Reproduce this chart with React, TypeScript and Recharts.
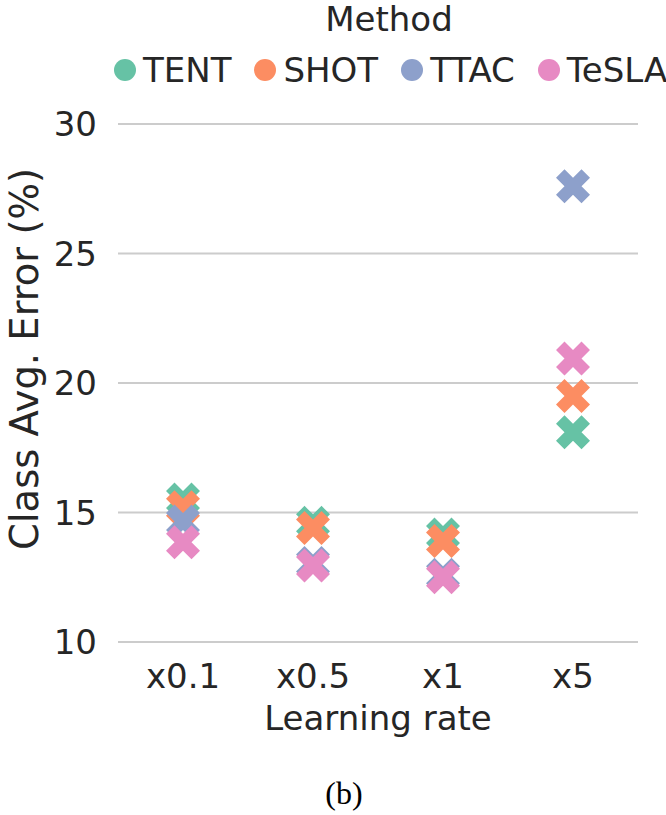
import { ScatterChart, Scatter, XAxis, YAxis, CartesianGrid, Legend } from 'recharts';

const categories = ['x0.1', 'x0.5', 'x1', 'x5'];
const yTicks = [10, 15, 20, 25, 30];

const tentValues = [15.5, 14.6, 14.15, 18.1];
const shotValues = [15.2, 14.4, 13.9, 19.5];
const ttacValues = [14.65, 13.05, 12.6, 27.6];
const teslaValues = [13.85, 12.95, 12.5, 20.95];

const methods = [
  { name: 'TENT', color: '#66c2a5', values: tentValues },
  { name: 'SHOT', color: '#fc8d62', values: shotValues },
  { name: 'TTAC', color: '#8da0cb', values: ttacValues },
  { name: 'TeSLA', color: '#e78ac3', values: teslaValues },
];

const font = '"DejaVu Sans", sans-serif';
const textColor = '#262626';

// filled "X" marker like matplotlib's 'X', 34px across
const XMarker = (props: any) => {
  const { cx, cy, fill } = props;
  const u = 8.5;
  const pts = [
    [-1, -2], [0, -1], [1, -2], [2, -1], [1, 0], [2, 1],
    [1, 2], [0, 1], [-1, 2], [-2, 1], [-1, 0], [-2, -1],
  ];
  const d = pts.map((p, i) => `${i === 0 ? 'M' : 'L'}${cx + p[0] * u},${cy + p[1] * u}`).join(' ') + ' Z';
  return <path d={d} fill={fill} />;
};

const MethodLegend = () => (
  <div style={{ position: 'relative', width: 666, height: 100, fontFamily: font, color: textColor }}>
    <div
      style={{
        position: 'absolute',
        left: 389,
        top: 2,
        transform: 'translateX(-50%)',
        fontSize: 34,
        lineHeight: '34px',
        whiteSpace: 'nowrap',
      }}
    >
      Method
    </div>
    <div
      style={{
        position: 'absolute',
        left: 114,
        top: 53,
        display: 'flex',
        alignItems: 'center',
        fontSize: 34,
        lineHeight: '34px',
        whiteSpace: 'nowrap',
      }}
    >
      {methods.map((m) => (
        <div key={m.name} style={{ display: 'flex', alignItems: 'center', marginRight: 23 }}>
          <div style={{ width: 22, height: 22, borderRadius: 11, background: m.color, marginRight: 7 }} />
          <span>{m.name}</span>
        </div>
      ))}
    </div>
  </div>
);

const YLabel = (props: any) => {
  const vb = props.viewBox || { x: 28, y: 124, width: 90, height: 518 };
  const x = vb.x + 10;
  const y = vb.y + vb.height / 2 - 24;
  return (
    <text
      x={x}
      y={y}
      transform={`rotate(-90 ${x} ${y})`}
      textAnchor="middle"
      fill={textColor}
      fontSize={38.5}
      fontFamily={font}
    >
      Class Avg. Error (%)
    </text>
  );
};

export default function App() {
  return (
    <div
      style={{
        position: 'absolute',
        left: 0,
        top: 0,
        width: 666,
        height: 815,
        background: '#ffffff',
        fontFamily: font,
      }}
    >
      <ScatterChart width={666} height={815} margin={{ top: 124, right: 28, bottom: 73, left: 28 }}>
        <CartesianGrid vertical={false} stroke="#cccccc" strokeWidth={2} />
        <XAxis
          type="number"
          dataKey="x"
          domain={[-0.5, 3.5]}
          ticks={[0, 1, 2, 3]}
          tickFormatter={(v: number) => categories[v]}
          height={100}
          axisLine={false}
          tickLine={false}
          tickMargin={16}
          tick={{ fill: textColor, fontSize: 34, fontFamily: font }}
          label={{
            value: 'Learning rate',
            position: 'insideBottom',
            offset: 12,
            fill: textColor,
            fontSize: 34,
            fontFamily: font,
          }}
        />
        <YAxis
          type="number"
          dataKey="y"
          domain={[10, 30]}
          ticks={yTicks}
          width={90}
          axisLine={false}
          tickLine={false}
          tickMargin={15}
          tick={{ fill: textColor, fontSize: 34, fontFamily: font }}
          label={{ content: YLabel }}
        />
        <Legend
          layout="horizontal"
          verticalAlign="middle"
          align="center"
          wrapperStyle={{ top: 0, left: 0, width: 666 }}
          content={() => <MethodLegend />}
        />
        {methods.map((m) => (
          <Scatter
            key={m.name}
            name={m.name}
            data={m.values.map((v, i) => ({ x: i, y: v }))}
            fill={m.color}
            shape={XMarker}
            isAnimationActive={false}
          />
        ))}
      </ScatterChart>
      <div
        style={{
          position: 'absolute',
          left: 0,
          width: 688,
          top: 776,
          textAlign: 'center',
          fontFamily: '"Liberation Serif", serif',
          fontSize: 32,
          lineHeight: '34px',
          color: '#000000',
        }}
      >
        (b)
      </div>
    </div>
  );
}
